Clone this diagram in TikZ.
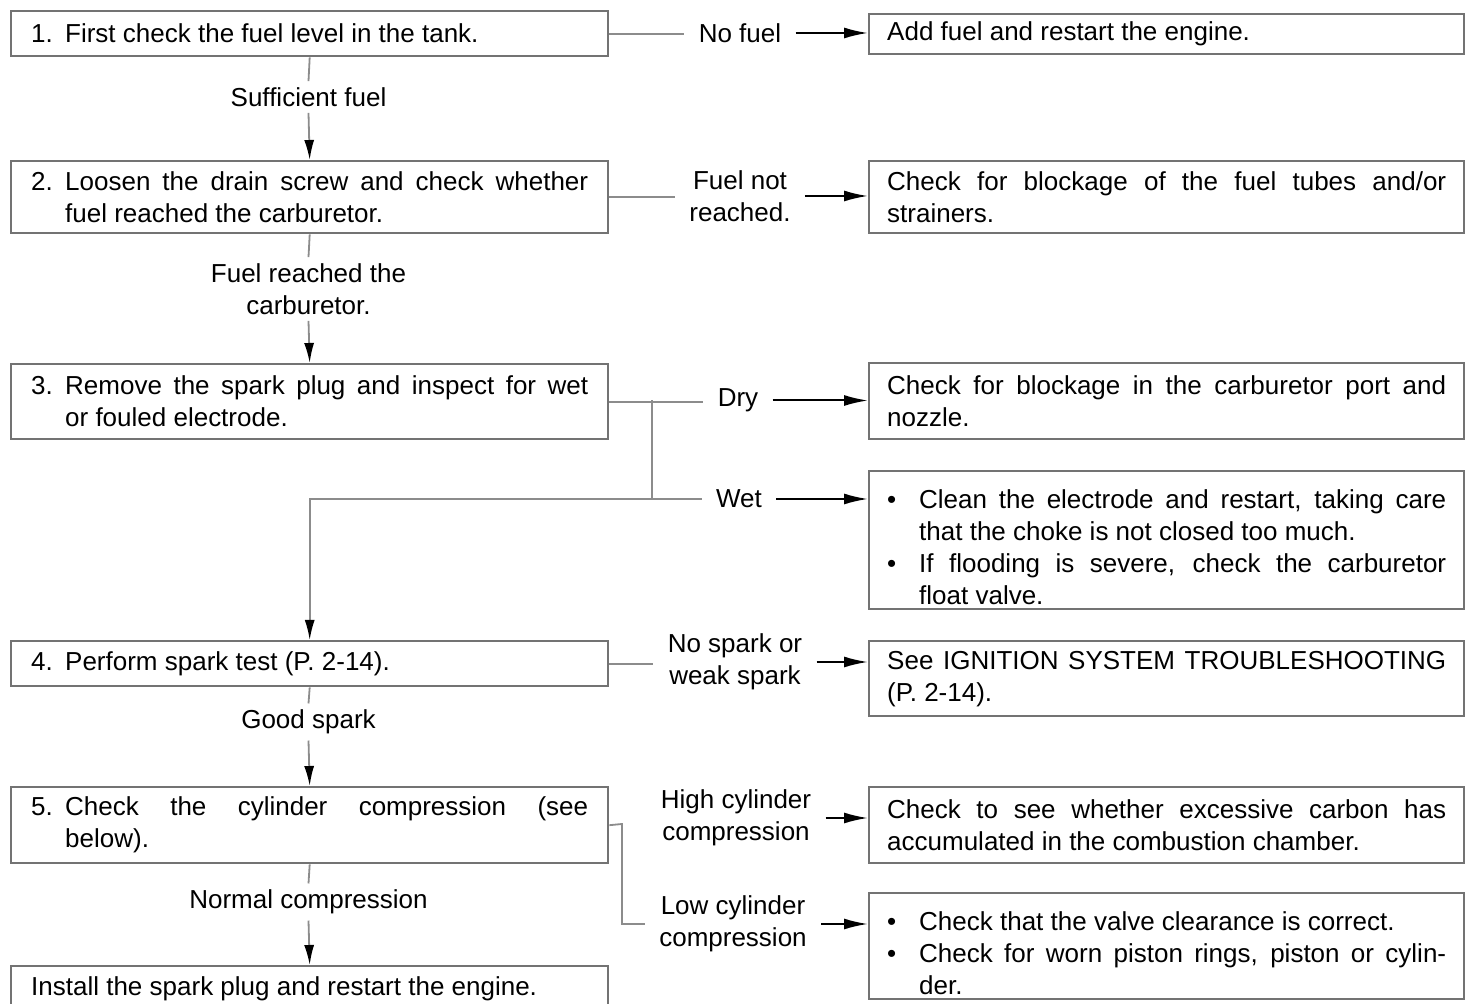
\documentclass[tikz,border=0pt]{standalone}
\usepackage{fontspec}
\setmainfont{Liberation Sans}
\usepackage{xcolor}
\usetikzlibrary{positioning, arrows.meta, calc}
\definecolor{boxline}{HTML}{737373}
\definecolor{wireline}{HTML}{8c8c8c}
\newcommand{\stepno}[1]{\noindent\hangindent=17pt\hangafter=1\makebox[17pt][l]{#1}}
\newcommand{\bul}{\par\noindent\hangindent=16pt\hangafter=1\makebox[16pt][l]{\textbullet}}

\begin{document}
\begin{tikzpicture}[x=0.5pt, y=-0.5pt, font=\fontsize{13}{16}\selectfont,
 stepbox/.style={draw=boxline, line width=1.2pt, anchor=north west, inner xsep=10pt, inner ysep=1pt, text width=278.5pt, align=justify},
 fixbox/.style={draw=boxline, line width=1.2pt, anchor=north west, inner xsep=9pt, inner ysep=1pt, text width=279.5pt, align=justify},
 cond/.style={inner xsep=7pt, inner ysep=3pt, align=center},
 wire/.style={draw=wireline, line width=0.9pt},
 down/.style={wire, -{Latex[length=10pt, width=5pt, color=black]}},
 go/.style={draw=black, line width=1pt, -{Latex[length=12pt, width=5.5pt]}}]
\path[use as bounding box, clip] (0,0) rectangle (1469,1004);

% checks on the left
\node[stepbox, minimum height=22.5pt](s1) at (10,10){\stepno{1.}First check the fuel level in the tank.\par};
\node[stepbox, minimum height=36pt](s2) at (10,160){\stepno{2.}Loosen the drain screw and check whether\linebreak fuel reached the carburetor.\par};
\node[stepbox, minimum height=37.5pt](s3) at (10,363){\stepno{3.}Remove the spark plug and inspect for wet\linebreak or fouled electrode.\par};
\node[stepbox, minimum height=22.5pt](s4) at (10,640){\stepno{4.}Perform spark test (P. 2-14).\par};
\node[stepbox, minimum height=38pt](s5) at (10,786){\stepno{5.}Check the cylinder compression (see\linebreak below).\par};
\node[stepbox, minimum height=22.5pt](s6) at (10,965){Install the spark plug and restart the engine.};

% remedies on the right
\node[fixbox, minimum height=20pt](r1) at (868,13){Add fuel and restart the engine.};
\node[fixbox, minimum height=36pt](r2) at (868,160){Check for blockage of the fuel tubes and/or\linebreak strainers.};
\node[fixbox, minimum height=38pt](r3) at (868,362){Check for blockage in the carburetor port and\linebreak nozzle.};
\node[fixbox, minimum height=69pt](r4) at (868,470){\bul Clean the electrode and restart, taking care\linebreak that the choke is not closed too much.\bul If flooding is severe, check the carburetor\linebreak float valve.\par};
\node[fixbox, minimum height=37.5pt](r5) at (868,640){See IGNITION SYSTEM TROUBLESHOOTING\linebreak (P. 2-14).};
\node[fixbox, minimum height=38pt](r6) at (868,786){Check to see whether excessive carbon has\linebreak accumulated in the combustion chamber.};
\node[fixbox, minimum height=53pt](r7) at (868,892){\bul Check that the valve clearance is correct.\bul Check for worn piston rings, piston or cylin-\linebreak der.\par};

% conditions
\node[cond](suff) at (308.5,97){Sufficient fuel};
\node[cond](reached) at (308.5,289){Fuel reached the\\carburetor.};
\node[cond](good) at (308.5,722){Good spark};
\node[cond](normal) at (308.5,902){Normal compression};
\node[cond](nofuel) at (740,33){No fuel};
\node[cond](notreached) at (740,196){Fuel not\\reached.};
\node[cond](dry) at (738,400.5){Dry};
\node[cond](wet) at (739,499){Wet};
\node[cond](nospark) at (735,662){No spark or\\weak spark};
\node[cond](high) at (736,818){High cylinder\\compression};
\node[cond](low) at (733,924){Low cylinder\\compression};

\coordinate (fork3) at (652,400.5);
\coordinate (fork5) at (622,824);

\foreach \a/\l/\b in {s1/suff/s2,s2/reached/s3,s4/good/s5,s5/normal/s6}
  {\draw[wire](\a.south)--(\l.north); \draw[down](\l.south)--(\b.north);}
\foreach \a/\l in {s1/nofuel,s2/notreached,s3/dry,s4/nospark}
  {\draw[wire](\a.east)--(\a.east -| \l.west);}
\foreach \l/\r in {nofuel/r1,notreached/r2,dry/r3,wet/r4,nospark/r5,high/r6,low/r7}
  {\draw[go](\l.east)--(\l.east -| \r.west);}

\draw[wire](fork3)--(fork3 |- wet.west);
\draw[down](wet.west)-|(s4.north);
\draw[wire](s5.east)--(fork5)|-(low.west);

\end{tikzpicture}
\end{document}
